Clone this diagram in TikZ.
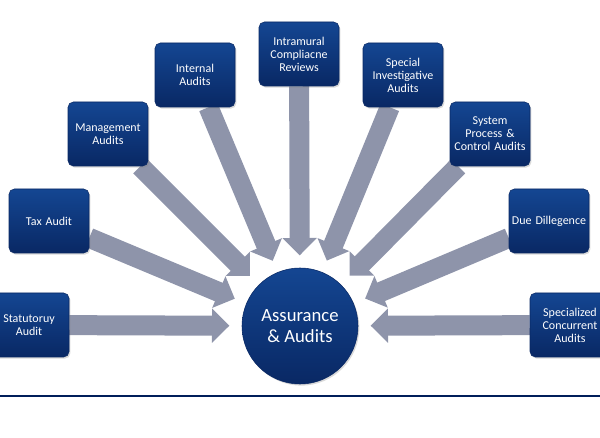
\documentclass[tikz,border=0pt]{standalone}
\usepackage{fontspec}
\setmainfont{Carlito}
\usepackage{tikz}
\usetikzlibrary{arrows.meta,calc,shadows,backgrounds}
\definecolor{boxtop}{RGB}{20,70,146}
\definecolor{boxbot}{RGB}{9,40,100}
\definecolor{arrgray}{RGB}{142,148,170}
\definecolor{rulenavy}{RGB}{0,30,90}

\begin{document}
\begin{tikzpicture}
[x=0.75pt,y=-0.75pt]
\tikzset{
	audit/.style = {rectangle, rounded corners=4pt, minimum width=60pt, minimum height=48pt, text width=58pt, align=center, inner sep=1pt, top color=boxtop, bottom color=boxbot, draw=boxbot, text=white, font=\fontsize{9}{9.75}\selectfont, drop shadow={opacity=0.3,shadow xshift=1pt,shadow yshift=-1.2pt}},
	hub/.style = {circle, minimum size=87pt, align=center, top color=boxtop, bottom color=boxbot, draw=boxbot, text=white, font=\fontsize{14}{15.5}\selectfont, drop shadow={opacity=0.3,shadow xshift=1pt,shadow yshift=-1.2pt}},
	feed/.style = {line width=15pt, arrgray, -{Triangle[width=25pt,length=13pt]}}
}
\useasboundingbox (0,0) rectangle (600,438);

\node (au) [hub] at (300,326) {Assurance\\\& Audits};

\node (st) [audit] at (29,325) {Statutoruy\\Audit};
\node (tax) [audit] at (49,221) {Tax Audit};
\node (mgt) [audit] at (108,134) {Management\\Audits};
\node (int) [audit] at (195,75) {Internal\\Audits};
\node (icr) [audit] at (299,54) {Intramural\\Compliacne\\Reviews};
\node (sia) [audit] at (403,75) {Special\\Investigative\\Audits};
\node (spc) [audit] at (490,134) {System\\Process \&\\Control Audits};
\node (dd) [audit] at (549,221) {Due Dillegence};
\node (sca) [audit] at (570,325) {Specialized\\Concurrent\\Audits};

% arrow tips round the hub
\coordinate (t-st) at ($(au)!53pt!(st)$);
\coordinate (t-tax) at ($(au)!53pt!(tax)$);
\coordinate (t-mgt) at ($(au)!53pt!(mgt)$);
\coordinate (t-int) at ($(au)!53pt!(int)$);
\coordinate (t-icr) at ($(au)!53pt!(icr)$);
\coordinate (t-sia) at ($(au)!53pt!(sia)$);
\coordinate (t-spc) at ($(au)!53pt!(spc)$);
\coordinate (t-dd) at ($(au)!53pt!(dd)$);
\coordinate (t-sca) at ($(au)!53pt!(sca)$);

\begin{scope}[on background layer]
\draw [feed] (st) -- (t-st);
\draw [feed] (tax) -- (t-tax);
\draw [feed] (mgt) -- (t-mgt);
\draw [feed] (int) -- (t-int);
\draw [feed] (icr) -- (t-icr);
\draw [feed] (sia) -- (t-sia);
\draw [feed] (spc) -- (t-spc);
\draw [feed] (dd) -- (t-dd);
\draw [feed] (sca) -- (t-sca);
\end{scope}

\draw [rulenavy, line width=1.5pt] (0,396) -- (600,396);
\end{tikzpicture}
\end{document}
